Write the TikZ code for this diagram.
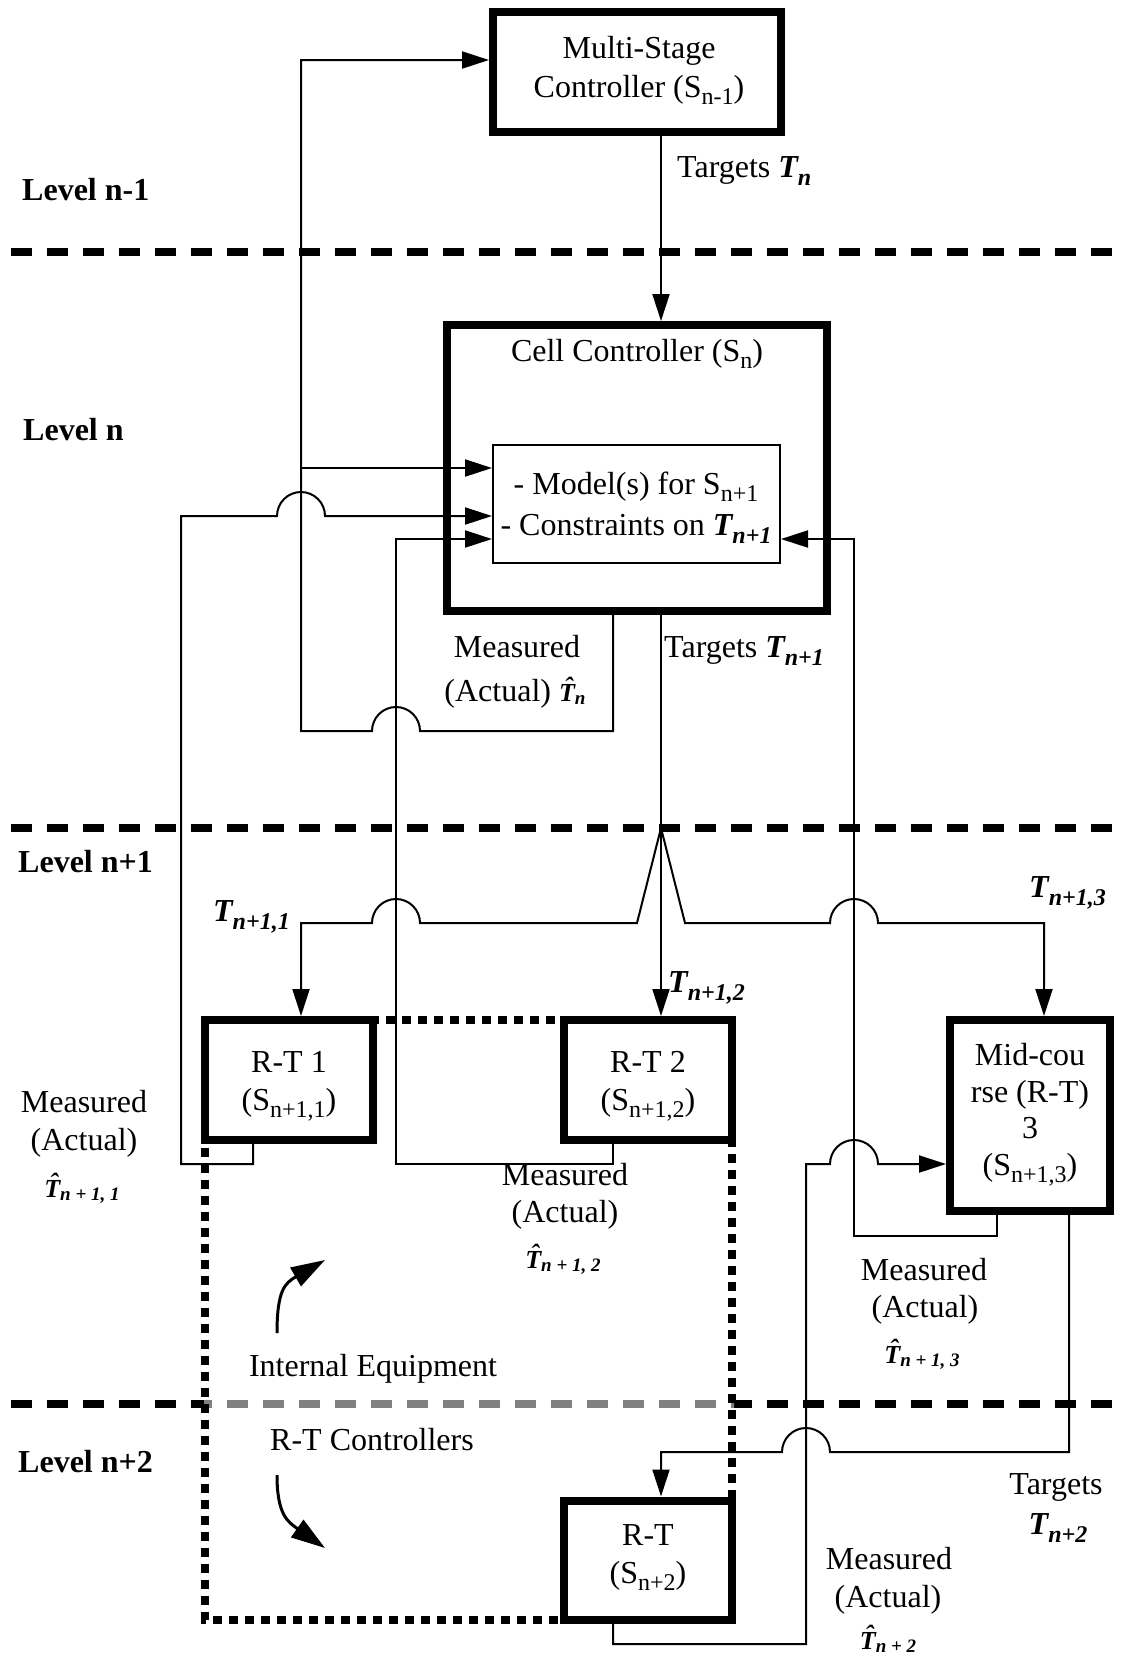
\documentclass[tikz,border=0pt]{standalone}
\usepackage{fontspec}
\setmainfont{Liberation Serif}
\usetikzlibrary{arrows.meta}
% subscripts: roman, bold-italic target symbols, hatted measured symbols
\newcommand\Sb[1]{\raisebox{-7pt}{\fontsize{24}{24}\selectfont #1}}
\newcommand\Ts[1]{{\bfseries\itshape T\raisebox{-8pt}{\fontsize{24}{24}\selectfont #1}}}
\newcommand\Th[1]{{\fontsize{26}{26}\selectfont\bfseries\itshape \accent"02C6 T\raisebox{-3pt}{\fontsize{19}{19}\selectfont #1}}}
\begin{document}
\begin{tikzpicture}[x=1pt,y=1pt,
  box/.style={draw,line width=8pt,fill=white,inner sep=0pt,outer sep=4pt},
  inbox/.style={draw,line width=2pt,fill=white,inner sep=0pt,outer sep=1pt},
  conn/.style={line width=2pt},
  arr/.style={conn,-{Triangle[length=27pt,width=17pt]}},
  lvl/.style={line width=8pt,dash pattern=on 21pt off 15pt},
  dots/.style={line width=8pt,dash pattern=on 9pt off 7pt},
  txt/.style={inner sep=0pt,anchor=base,font=\fontsize{32}{38}\selectfont},
  ltxt/.style={txt,anchor=base west},
  lvltxt/.style={txt,anchor=base west,font=\fontsize{32}{38}\selectfont\bfseries},
  turn/.style={line width=3pt,-{Triangle[length=34pt,width=21pt]}},
]
\useasboundingbox (0,0) rectangle (1120,-1658);

% level separators
\draw[lvl] (11,-252) -- (1120,-252);
\draw[lvl] (11,-828) -- (1120,-828);
\draw[lvl] (11,-1404) -- (1120,-1404);
\begin{scope}
  \clip (204,-1390) rectangle (734,-1420);
  \draw[lvl,black!50] (11,-1404) -- (1120,-1404);
\end{scope}

% real-time equipment group
\draw[dots] (205,-1020) rectangle (732,-1620);

% controllers
\node[box,minimum width=288pt,minimum height=120pt] (ms) at (637,-72) {};
\node[box,minimum width=380pt,minimum height=286pt] (cell) at (637,-468) {};
\node[inbox,minimum width=287pt,minimum height=118pt] (inner) at (636.5,-504) {};
\node[box,minimum width=168pt,minimum height=120pt] (rt1) at (289,-1080) {};
\node[box,minimum width=168pt,minimum height=120pt] (rt2) at (648,-1080) {};
\node[box,minimum width=160pt,minimum height=191pt] (mid) at (1030,-1115.5) {};
\node[box,minimum width=168pt,minimum height=119pt] (rt3) at (648,-1560) {};
\coordinate (fan) at (661,-828);

% measured output of the cell controller
\draw[arr] (cell.south -| 613,0) -- (613,-731) -- (420,-731)
  arc[start angle=0,end angle=180,radius=24] -- (301,-731) -- (301,-60)
  -- (ms.west |- 0,-60);
\draw[arr] (301,-468) -- (inner.west |- 0,-468);

% measured outputs of the real-time controllers
\draw[arr] (rt1.south -| 253,0) -- (253,-1164) -- (181,-1164) -- (181,-516)
  -- (277,-516) arc[start angle=180,end angle=0,radius=24] -- (inner.west |- 0,-516);
\draw[arr] (rt2.south -| 613,0) -- (613,-1164) -- (396,-1164) -- (396,-539)
  -- (inner.west |- 0,-539);
\draw[arr] (mid.south -| 997,0) -- (997,-1236) -- (854,-1236) -- (854,-539)
  -- (inner.east |- 0,-539);
\draw[arr] (rt3.south -| 613,0) -- (613,-1644) -- (806,-1644) -- (806,-1164)
  -- (830,-1164) arc[start angle=180,end angle=0,radius=24] -- (mid.west |- 0,-1164);

% targets
\draw[arr] (ms.south -| 661,0) -- (cell.north -| 661,0);
\draw[arr] (cell.south -| 661,0) -- (rt2.north -| 661,0);
\draw[arr] (fan) -- (637,-923) -- (420,-923)
  arc[start angle=0,end angle=180,radius=24] -- (301,-923) -- (rt1.north -| 301,0);
\draw[arr] (fan) -- (685,-923) -- (830,-923)
  arc[start angle=180,end angle=0,radius=24] -- (1044,-923) -- (mid.north -| 1044,0);
\draw[arr] (mid.south -| 1069,0) -- (1069,-1452) -- (830,-1452)
  arc[start angle=0,end angle=180,radius=24] -- (661,-1452) -- (rt3.north -| 661,0);

% internal equipment / R-T controllers turn arrows
\draw[turn] (277,-1333) .. controls (277,-1290) and (285,-1283) .. (325,-1260);
\draw[turn] (277,-1475) .. controls (277,-1515) and (288,-1522) .. (325,-1548);

% level names
\node[lvltxt] (ln1) at (22,-200) {Level n-1};
\node[lvltxt] (ln0) at (23,-440) {Level n};
\node[lvltxt] (lp1) at (18,-872) {Level n+1};
\node[lvltxt] (lp2) at (18,-1472) {Level n+2};

% controller texts
\node[txt] (mst1) at (639,-58) {Multi-Stage};
\node[txt] (mst2) at (639,-97) {Controller (S\Sb{n-1})};
\node[txt] (cct) at (637,-361) {Cell Controller (S\Sb{n})};
\node[txt] (imt1) at (636,-494) {- Model(s) for S\Sb{n+1}};
\node[txt] (imt2) at (636,-535) {- Constraints on \Ts{n+1}};
\node[txt] (rt1a) at (289,-1072) {R-T 1};
\node[txt] (rt1b) at (289,-1110) {(S\Sb{n+1,1})};
\node[txt] (rt2a) at (648,-1072) {R-T 2};
\node[txt] (rt2b) at (648,-1110) {(S\Sb{n+1,2})};
\node[txt] (mida) at (1030,-1065) {Mid-cou};
\node[txt] (midb) at (1030,-1102) {rse (R-T)};
\node[txt] (midc) at (1030,-1138) {3};
\node[txt] (midd) at (1030,-1175) {(S\Sb{n+1,3})};
\node[txt] (rt3a) at (648,-1545) {R-T};
\node[txt] (rt3b) at (648,-1583) {(S\Sb{n+2})};

% signal labels
\node[ltxt] (ttn) at (677,-177) {Targets \Ts{n}};
\node[txt] (m0a) at (517,-657) {Measured};
\node[txt] (m0b) at (515,-701) {(Actual) \Th{n}};
\node[ltxt] (ttn1) at (664,-657) {Targets \Ts{n+1}};
\node[ltxt] (t11) at (213,-921) {\Ts{n+1,1}};
\node[ltxt] (t13) at (1029,-897) {\Ts{n+1,3}};
\node[ltxt] (t12) at (668,-992) {\Ts{n+1,2}};
\node[txt] (m1a) at (84,-1112) {Measured};
\node[txt] (m1b) at (84,-1150) {(Actual)};
\node[txt] (m1c) at (82,-1197) {\Th{n + 1, 1}};
\node[txt] (m2a) at (565,-1185) {Measured};
\node[txt] (m2b) at (565,-1222) {(Actual)};
\node[txt] (m2c) at (563,-1268) {\Th{n + 1, 2}};
\node[txt] (m3a) at (924,-1280) {Measured};
\node[txt] (m3b) at (925,-1317) {(Actual)};
\node[txt] (m3c) at (922,-1363) {\Th{n + 1, 3}};
\node[txt] (ieq) at (373,-1376) {Internal Equipment};
\node[txt] (rtc) at (372,-1450) {R-T Controllers};
\node[txt] (tg2a) at (1056,-1494) {Targets};
\node[txt] (tg2b) at (1058,-1534) {\Ts{n+2}};
\node[txt] (m4a) at (889,-1569) {Measured};
\node[txt] (m4b) at (888,-1607) {(Actual)};
\node[txt] (m4c) at (888,-1649) {\Th{n + 2}};
\end{tikzpicture}
\end{document}
